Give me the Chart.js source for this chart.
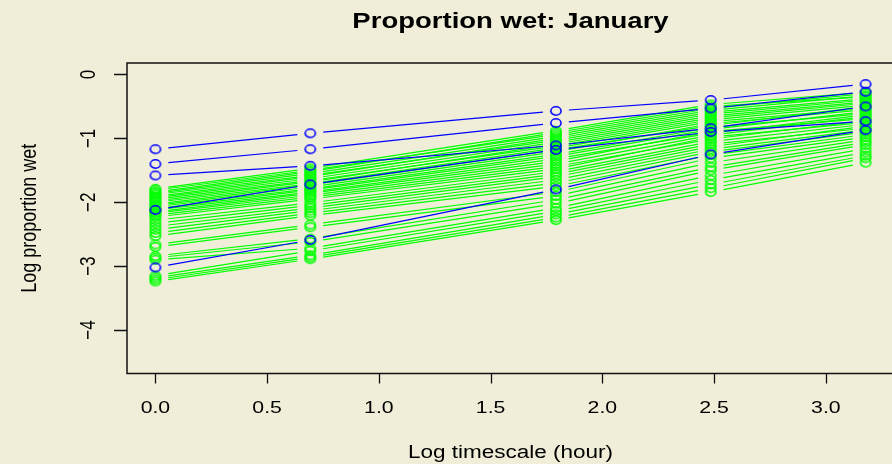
<!DOCTYPE html>
<html>
<head>
<meta charset="utf-8">
<script src="https://cdn.jsdelivr.net/npm/chart.js"></script>
<style>
  html, body { margin: 0; padding: 0; background: #f0eed8; overflow: hidden; }
  #wrap { width: 900px; height: 464px; }
</style>
</head>
<body>
<div id="wrap"><canvas id="wet" width="900" height="464"></canvas></div>
<script>
(function() {
    "use strict";

    // log of the timescale in hours: 1, 2, 6, 12, 24
    var logHours = [0, 0.693, 1.792, 2.485, 3.178];
    var xTicks = [0, 0.5, 1, 1.5, 2, 2.5, 3];
    var yTicks = [0, -1, -2, -3, -4];

    // highlighted stations (blue)
    var blueSeries = [
        [-1.17, -0.92, -0.57, -0.40, -0.15],
        [-1.40, -1.17, -0.76, -0.53, -0.27],
        [-1.58, -1.43, -1.11, -0.84, -0.50],
        [-2.12, -1.72, -1.18, -0.90, -0.73],
        [-3.02, -2.59, -1.80, -1.25, -0.87]
    ];

    // all other stations (green)
    var greenSeries = [
        [-1.79, -1.47, -0.88, -0.47, -0.28],
        [-1.81, -1.50, -0.94, -0.53, -0.30],
        [-1.84, -1.52, -0.91, -0.50, -0.35],
        [-1.86, -1.55, -0.97, -0.56, -0.33],
        [-1.88, -1.58, -1.03, -0.62, -0.40],
        [-1.91, -1.60, -1.00, -0.59, -0.38],
        [-1.93, -1.63, -1.06, -0.65, -0.43],
        [-1.95, -1.66, -1.12, -0.71, -0.48],
        [-1.98, -1.68, -1.09, -0.68, -0.45],
        [-2.00, -1.71, -1.15, -0.74, -0.53],
        [-2.03, -1.73, -1.18, -0.80, -0.50],
        [-2.05, -1.76, -1.21, -0.77, -0.55],
        [-2.07, -1.79, -1.25, -0.83, -0.61],
        [-2.10, -1.81, -1.28, -0.86, -0.58],
        [-2.12, -1.84, -1.32, -0.92, -0.63],
        [-2.15, -1.86, -1.36, -0.89, -0.69],
        [-2.17, -1.89, -1.40, -0.95, -0.66],
        [-2.20, -1.92, -1.44, -1.01, -0.72],
        [-2.23, -1.95, -1.48, -0.98, -0.75],
        [-2.28, -2.01, -1.52, -1.05, -0.78],
        [-2.33, -2.05, -1.56, -1.09, -0.84],
        [-2.38, -2.09, -1.60, -1.13, -0.81],
        [-2.43, -2.13, -1.65, -1.17, -0.87],
        [-2.48, -2.17, -1.70, -1.21, -0.90],
        [-2.53, -2.21, -1.75, -1.26, -0.94],
        [-2.66, -2.35, -1.84, -1.31, -0.98],
        [-2.70, -2.39, -1.90, -1.38, -1.02],
        [-2.84, -2.57, -1.96, -1.45, -1.06],
        [-2.87, -2.62, -2.02, -1.50, -1.10],
        [-2.90, -2.72, -2.09, -1.58, -1.16],
        [-3.15, -2.76, -2.14, -1.65, -1.22],
        [-3.18, -2.83, -2.19, -1.72, -1.27],
        [-3.21, -2.86, -2.24, -1.78, -1.31],
        [-3.24, -2.89, -2.28, -1.84, -1.38]
    ];

    var STRETCH = 1.25;  // the picture is a bit wider than tall
    var GAP = 13;        // gap left round each point (type "b")
    var FONT = '"Liberation Sans", Arial, Helvetica, sans-serif';

    // open ellipse used as point marker
    function ring(color) {
        var c = document.createElement('canvas');
        c.width = 16;
        c.height = 14;
        var g = c.getContext('2d');
        g.strokeStyle = color;
        g.lineWidth = 1.6;
        g.beginPath();
        g.ellipse(8, 7, 5.1, 4.2, 0, 0, Math.PI * 2);
        g.stroke();
        return c;
    }
    var greenRing = ring('#00ff00');
    var blueRing = ring('#0000ff');

    function toDataset(values, color, marker) {
        return {
            data: values.map(function(v, i) { return { x: logHours[i], y: v }; }),
            borderColor: color,
            showLine: false,
            pointStyle: marker,
            pointRadius: 5,
            pointHoverRadius: 5
        };
    }

    // first datasets are drawn last, so the blue ones go first
    var datasets = [];
    blueSeries.forEach(function(s) { datasets.push(toDataset(s, '#0000ff', blueRing)); });
    greenSeries.forEach(function(s) { datasets.push(toDataset(s, '#00ff00', greenRing)); });

    // lines between points, stopping short of each point
    var gapLines = {
        id: 'gapLines',
        beforeDatasetDraw: function(chart, args) {
            var pts = args.meta.data;
            var ctx = chart.ctx;
            ctx.save();
            ctx.strokeStyle = chart.data.datasets[args.index].borderColor;
            ctx.lineWidth = 1.2;
            ctx.beginPath();
            for (var i = 0; i < pts.length - 1; i++) {
                var a = pts[i], b = pts[i + 1];
                var dx = b.x - a.x, dy = b.y - a.y;
                var len = Math.hypot(dx, dy);
                if (len <= 2 * GAP) continue;
                var ux = dx / len, uy = dy / len;
                ctx.moveTo(a.x + ux * GAP, a.y + uy * GAP);
                ctx.lineTo(b.x - ux * GAP, b.y - uy * GAP);
            }
            ctx.stroke();
            ctx.restore();
        }
    };

    function text(ctx, str, x, y, font, align, rotate) {
        ctx.save();
        ctx.translate(x, y);
        ctx.scale(STRETCH, 1);
        if (rotate) ctx.rotate(-Math.PI / 2);
        ctx.font = font;
        ctx.textAlign = align;
        ctx.textBaseline = 'alphabetic';
        ctx.fillStyle = '#000';
        ctx.fillText(str, 0, 0);
        ctx.restore();
    }

    // R style box, ticks and labels
    var rAxes = {
        id: 'rAxes',
        afterDraw: function(chart) {
            var ctx = chart.ctx;
            var area = chart.chartArea;
            var xs = chart.scales.x, ys = chart.scales.y;

            ctx.save();
            ctx.strokeStyle = '#111';
            ctx.lineWidth = 1.5;
            ctx.strokeRect(area.left, area.top, area.right - area.left, area.bottom - area.top);

            ctx.lineWidth = 1.3;
            ctx.beginPath();
            xTicks.forEach(function(v) {
                var px = Math.round(xs.getPixelForValue(v)) + 0.5;
                ctx.moveTo(px, area.bottom);
                ctx.lineTo(px, area.bottom + 10);
            });
            yTicks.forEach(function(v) {
                var py = Math.round(ys.getPixelForValue(v)) + 0.5;
                ctx.moveTo(area.left, py);
                ctx.lineTo(area.left - 13, py);
            });
            ctx.stroke();
            ctx.restore();

            xTicks.forEach(function(v) {
                text(ctx, v.toFixed(1), xs.getPixelForValue(v), 413, '17px ' + FONT, 'center', false);
            });
            yTicks.forEach(function(v) {
                text(ctx, String(v).replace('-', '\u2212'), 95, ys.getPixelForValue(v), '17px ' + FONT, 'center', true);
            });

            var cx = (area.left + area.right) / 2;
            var cy = (area.top + area.bottom) / 2;
            text(ctx, 'Proportion wet: January', cx, 28, 'bold 22px ' + FONT, 'center', false);
            text(ctx, 'Log timescale (hour)', cx, 458, '18px ' + FONT, 'center', false);
            text(ctx, 'Log proportion wet', 36, cy, '18px ' + FONT, 'center', true);
        }
    };

    new Chart(document.getElementById('wet').getContext('2d'), {
        type: 'scatter',
        data: { datasets: datasets },
        options: {
            responsive: false,
            animation: false,
            devicePixelRatio: 1,
            layout: { padding: { left: 127, top: 63, right: 5.2, bottom: 90.5 } },
            plugins: { legend: { display: false }, tooltip: { enabled: false } },
            scales: {
                x: { type: 'linear', min: -0.1271, max: 3.305, display: false },
                y: { type: 'linear', min: -4.68, max: 0.18, display: false }
            }
        },
        plugins: [gapLines, rAxes]
    });

})();
</script>
</body>
</html>
